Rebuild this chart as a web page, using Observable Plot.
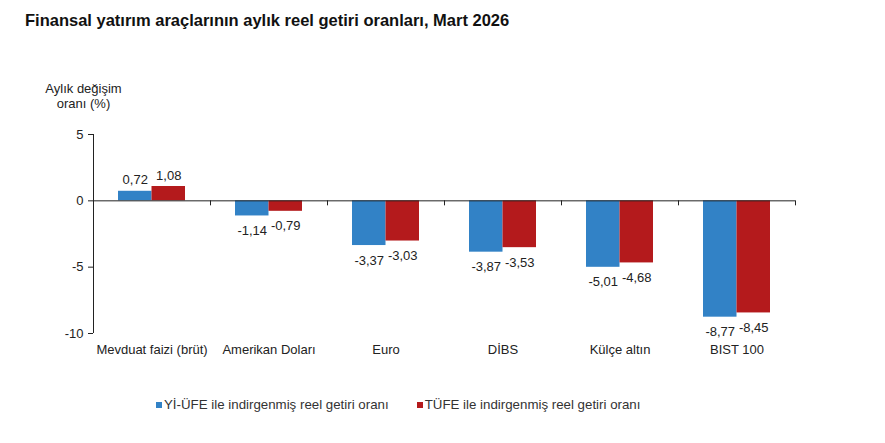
<!DOCTYPE html>
<html lang="tr">
<head>
<meta charset="utf-8">
<script src="https://cdn.jsdelivr.net/npm/d3@7"></script>
<script src="https://cdn.jsdelivr.net/npm/@observablehq/plot@0.6"></script>
<style>
  html, body { margin: 0; padding: 0; background: #fff; }
  body { width: 885px; height: 443px; overflow: hidden; font-family: Arial, "Liberation Sans", sans-serif; color: #111; }
  #title { height: 40px; box-sizing: border-box; padding: 10px 0 0 25px; font-size: 16.5px; line-height: 20px; font-weight: bold; }
  #chart svg { display: block; }
  #legend { display: flex; gap: 28px; padding-left: 156px; margin-top: 17px; font-size: 13.3px; color: #333; }
  #legend span { display: inline-flex; align-items: center; }
  #legend i { display: inline-block; width: 6px; height: 6px; margin-right: 2px; }
</style>
</head>
<body>
<div id="title">Finansal yatırım araçlarının aylık reel getiri oranları, Mart 2026</div>
<div id="chart"></div>
<div id="legend"></div>
<script>
// Instruments, in display order
const categories = ["Mevduat faizi (brüt)", "Amerikan Doları", "Euro", "DİBS", "Külçe altın", "BIST 100"];
// Monthly real return (%), deflated by the domestic PPI (Yİ-ÜFE)
const ppiValues = [0.72, -1.14, -3.37, -3.87, -5.01, -8.77];
// Monthly real return (%), deflated by the CPI (TÜFE)
const cpiValues = [1.08, -0.79, -3.03, -3.53, -4.68, -8.45];
const seriesNames = ["Yİ-ÜFE ile indirgenmiş reel getiri oranı", "TÜFE ile indirgenmiş reel getiri oranı"];
const seriesColors = ["#3282c6", "#b41a1c"];
const yTicks = [5, 0, -5, -10];

const rows = categories.flatMap((c, i) => [
  {category: c, series: seriesNames[0], value: ppiValues[i]},
  {category: c, series: seriesNames[1], value: cpiValues[i]}
]);

const W = 885, H = 340;
const mL = 93, mR = 90, mT = 94, mB = 47;
const step = (W - mL - mR) / categories.length;
const barW = 33.5;
// pair of bars centred in each band
const innerL = step / 2 - barW, innerR = step / 2 - barW;

const fmt = v => v.toFixed(2).replace(".", ",");
const label = (name, side) => Plot.text(rows.filter(d => d.series === name && (side > 0 ? d.value >= 0 : d.value < 0)), {
  x: "category", y: "value", text: d => fmt(d.value),
  dx: (name === seriesNames[0] ? -1 : 1) * barW / 2,
  dy: side > 0 ? -11 : 15,
  fontSize: 13, fill: "#222", lineAnchor: "middle"
});

const chart = Plot.plot({
  width: W, height: H,
  marginLeft: mL, marginRight: mR, marginTop: mT, marginBottom: mB,
  style: {fontFamily: "Arial, 'Liberation Sans', sans-serif", color: "#222", background: "#fff"},
  x: {domain: categories, padding: 0, label: null},
  y: {domain: [-10, 5], label: null},
  marks: [
    Plot.barY(rows.filter(d => d.series === seriesNames[0]), {x: "category", y: "value", fill: seriesColors[0], insetLeft: innerL, insetRight: step - innerL - barW}),
    Plot.barY(rows.filter(d => d.series === seriesNames[1]), {x: "category", y: "value", fill: seriesColors[1], insetLeft: step / 2, insetRight: innerR}),
    // zero baseline with tick marks between categories
    Plot.ruleY([0], {stroke: "#222", strokeWidth: 1}),
    Plot.ruleX(categories, {x: d => d, y1: 0, y2: 0, dx: step / 2, insetBottom: -5, stroke: "#222"}),
    // vertical value axis line
    Plot.ruleX(categories.slice(0, 1), {x: d => d, y1: yTicks[0], y2: yTicks[yTicks.length - 1], dx: -step / 2, stroke: "#222"}),
    Plot.axisY({ticks: yTicks, tickSize: 5, tickPadding: 5, tickFormat: d => String(d), fontSize: 13, label: null}),
    Plot.axisX({tickSize: 0, tickPadding: 11, fontSize: 13, label: null}),
    label(seriesNames[0], 1), label(seriesNames[0], -1),
    label(seriesNames[1], 1), label(seriesNames[1], -1),
    Plot.text(["Aylık değişim\noranı (%)"], {frameAnchor: "top-left", dx: -10, dy: -51, textAnchor: "middle", lineAnchor: "top", lineHeight: 1.08, fontSize: 13, fill: "#222"})
  ]
});
document.getElementById("chart").appendChild(chart);

const legend = document.getElementById("legend");
seriesNames.forEach((name, i) => {
  const item = document.createElement("span");
  const sw = document.createElement("i");
  sw.style.background = seriesColors[i];
  item.appendChild(sw);
  item.appendChild(document.createTextNode(name));
  legend.appendChild(item);
});
</script>
</body>
</html>
